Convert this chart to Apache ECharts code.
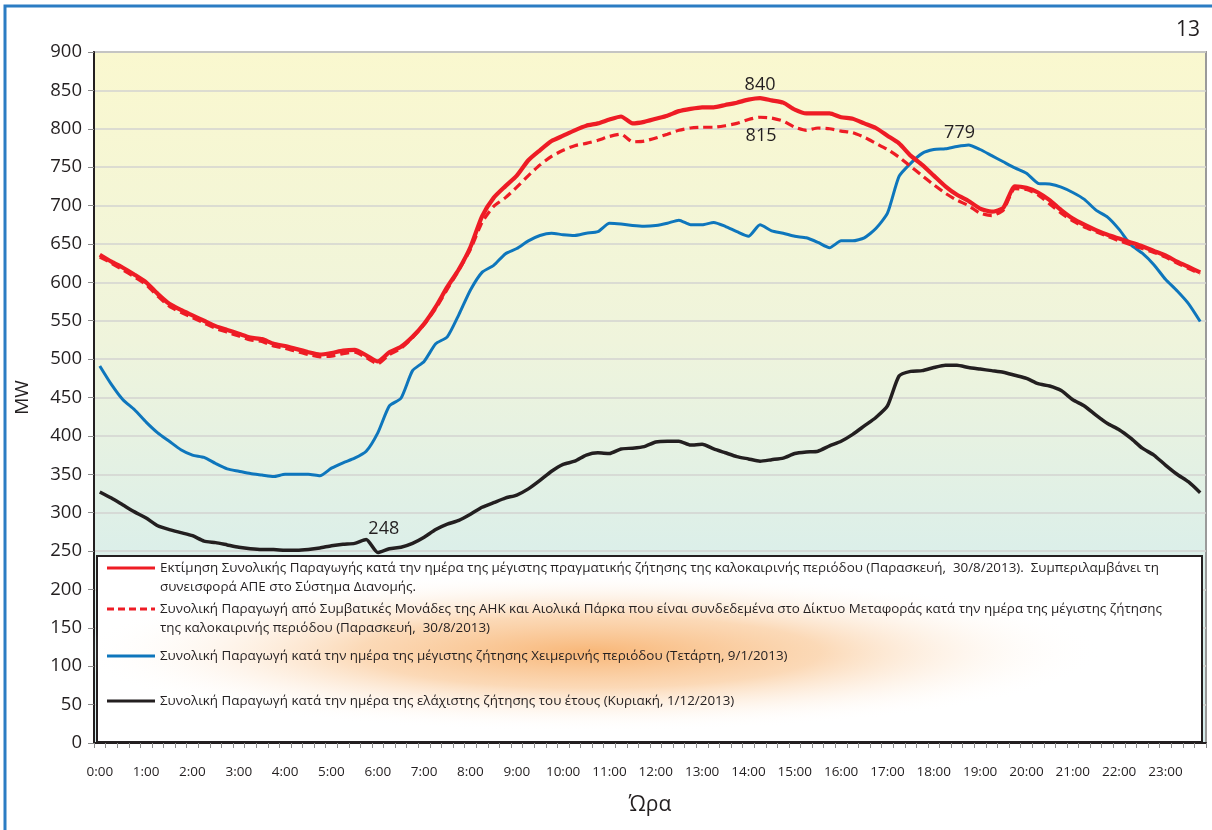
<!DOCTYPE html>
<html>
<head>
<meta charset="utf-8">
<title>Συνολική Παραγωγή</title>
<script src="https://cdn.jsdelivr.net/npm/echarts@6/dist/echarts.min.js"></script>
<style>
  html, body { margin: 0; padding: 0; background: #fff; }
  #main { width: 1212px; height: 830px; }
</style>
</head>
<body>
<div id="main"></div>
<script>
// ώρα ανά τέταρτο (0:00 ... 23:45)
var times = []
for (var h = 0; h < 24; h++) {
  for (var m = 0; m < 60; m += 15) times.push(h + ':' + (m < 10 ? '0' + m : m))
}

// MW, μία γραμμή ανά ώρα (4 τέταρτα)
var summerEstimate = [
  636, 627, 619, 610,  600, 585, 572, 564,  557, 550, 543, 538,  533, 528, 526, 520,
  517, 513, 509, 506,  508, 511, 512, 505,  497, 509, 516, 529,  546, 568, 594, 617,
  646, 686, 710, 725,  739, 759, 772, 784,  791, 798, 804, 807,  812, 816, 807, 809,
  813, 817, 823, 826,  828, 828, 831, 834,  838, 840, 837, 834,  825, 820, 820, 820,
  815, 813, 807, 801,  791, 781, 765, 753,  739, 725, 714, 706,  696, 692, 697, 725,
  723, 717, 707, 694,  683, 675, 668, 662,  657, 652, 647, 641,  635, 627, 620, 613
]
var summerTransmission = [
  633, 625, 616, 607,  597, 582, 569, 561,  554, 547, 540, 535,  530, 525, 523, 517,
  514, 510, 506, 503,  504, 507, 509, 502,  494, 506, 514, 528,  545, 566, 591, 616,
  643, 678, 699, 710,  724, 739, 753, 764,  772, 778, 781, 785,  790, 793, 783, 784,
  788, 793, 798, 801,  802, 802, 804, 807,  812, 815, 814, 810,  802, 798, 801, 800,
  797, 795, 789, 781,  773, 763, 751, 739,  727, 716, 707, 700,  690, 687, 694, 722,
  721, 714, 702, 690,  680, 672, 666, 660,  654, 649, 644, 639,  633, 625, 618, 611
]
var winterMax = [
  491, 467, 447, 434,  418, 404, 393, 382,  375, 372, 364, 357,  354, 351, 349, 347,
  350, 350, 350, 348,  358, 365, 371, 380,  404, 439, 449, 485,  497, 520, 529, 558,
  590, 613, 622, 637,  644, 654, 661, 664,  662, 661, 664, 666,  677, 676, 674, 673,
  674, 677, 681, 675,  675, 678, 673, 666,  660, 675, 667, 664,  660, 658, 652, 645,
  654, 654, 658, 670,  690, 738, 755, 768,  773, 774, 777, 779,  773, 765, 757, 749,
  742, 729, 728, 724,  717, 708, 694, 685,  669, 649, 638, 623,  604, 589, 572, 549
]
var yearMin = [
  327, 319, 310, 301,  293, 283, 278, 274,  270, 263, 261, 258,  255, 253, 252, 252,
  251, 251, 252, 254,  257, 259, 260, 265,  248, 253, 255, 260,  268, 278, 285, 290,
  298, 307, 313, 319,  323, 331, 342, 354,  363, 367, 375, 378,  377, 383, 384, 386,
  392, 393, 393, 388,  389, 383, 378, 373,  370, 367, 369, 371,  377, 379, 380, 387,
  393, 402, 413, 424,  439, 478, 484, 485,  489, 492, 492, 489,  487, 485, 483, 479,
  475, 468, 465, 459,  447, 439, 427, 416,  408, 397, 384, 375,  362, 350, 340, 326
]

var seriesNames = [
  'Εκτίμηση Συνολικής Παραγωγής κατά την ημέρα της μέγιστης πραγματικής ζήτησης της καλοκαιρινής περιόδου (Παρασκευή,  30/8/2013).  Συμπεριλαμβάνει τη\nσυνεισφορά ΑΠΕ στο Σύστημα Διανομής.',
  'Συνολική Παραγωγή από Συμβατικές Μονάδες της ΑΗΚ και Αιολικά Πάρκα που είναι συνδεδεμένα στο Δίκτυο Μεταφοράς κατά την ημέρα της μέγιστης ζήτησης\nτης καλοκαιρινής περιόδου (Παρασκευή,  30/8/2013)',
  'Συνολική Παραγωγή κατά την ημέρα της μέγιστης ζήτησης Χειμερινής περιόδου (Τετάρτη, 9/1/2013)',
  'Συνολική Παραγωγή κατά την ημέρα της ελάχιστης ζήτησης του έτους (Κυριακή, 1/12/2013)'
]
// σημείο με ετικέτα τιμής σε κάθε σειρά
var labelIndex = [57, 57, 75, 24]

var font = '"Open Sans", "DejaVu Sans", sans-serif'
var textColor = '#231f20'

var styles = [
  { color: '#ee1c25', width: 4.2, type: 'solid', label: { position: 'top', distance: 3, offset: [0, 0] } },
  { color: '#ee1c25', width: 3.2, type: [9, 5], label: { position: 'bottom', distance: 9, offset: [1, 0] } },
  { color: '#0e76bc', width: 3, type: 'solid', label: { position: 'top', distance: 2, offset: [-9, 0] } },
  { color: '#231f20', width: 3.5, type: 'solid', label: { position: 'top', distance: 14, offset: [6, 0] } }
]
var allData = [summerEstimate, summerTransmission, winterMax, yearMin]

var series = allData.map(function (arr, s) {
  var st = styles[s]
  return {
    name: seriesNames[s],
    type: 'line',
    smooth: 0.2,
    symbol: 'none',
    z: 10 - s,
    lineStyle: { color: st.color, width: st.width, type: st.type },
    itemStyle: { color: st.color },
    data: arr.map(function (v, i) {
      if (i !== labelIndex[s]) return v
      return {
        value: v,
        symbol: 'circle',
        symbolSize: 2,
        label: {
          show: true,
          position: st.label.position,
          distance: st.label.distance,
          offset: st.label.offset,
          formatter: '{c}',
          fontSize: 18,
          fontFamily: font,
          color: textColor
        }
      }
    })
  }
})

// υπόμνημα
var legendY = [568, 609, 656, 701]
var legendGraphics = [
  { type: 'rect', z: 1, shape: { x: 97, y: 556, width: 1105, height: 186 },
    style: { fill: '#fff', stroke: '#231f20', lineWidth: 2 } },
  { type: 'circle', z: 1, x: 590, y: 652, scaleX: 6.4, scaleY: 1,
    shape: { cx: 0, cy: 0, r: 80 },
    style: {
      fill: new echarts.graphic.RadialGradient(0.5, 0.5, 0.5, [
        { offset: 0, color: 'rgba(247,170,96,0.85)' },
        { offset: 0.45, color: 'rgba(249,192,135,0.6)' },
        { offset: 1, color: 'rgba(255,255,255,0)' }
      ])
    } }
]
seriesNames.forEach(function (name, i) {
  var st = styles[i]
  legendGraphics.push({
    type: 'line', z: 52,
    shape: { x1: 107, y1: legendY[i], x2: 155, y2: legendY[i] },
    style: { stroke: st.color, lineWidth: 3, lineDash: i === 1 ? [7, 4] : null }
  })
  legendGraphics.push({
    type: 'text', z: 52, x: 160, y: legendY[i] - 9,
    style: { text: name, fill: textColor, font: '13.4px ' + font, lineHeight: 19, verticalAlign: 'top' }
  })
})

var chart = echarts.init(document.getElementById('main'))
chart.setOption({
  animation: false,
  backgroundColor: '#fff',
  grid: {
    show: true,
    left: 94, top: 52, right: 6, bottom: 87,
    borderColor: '#9a9a9a', borderWidth: 2,
    backgroundColor: new echarts.graphic.LinearGradient(0, 0, 0, 1, [
      { offset: 0, color: '#faf8cf' },
      { offset: 0.42, color: '#eff4dc' },
      { offset: 0.72, color: '#dcefe9' },
      { offset: 1, color: '#d6eded' }
    ])
  },
  xAxis: {
    type: 'category',
    data: times,
    boundaryGap: true,
    name: 'Ώρα',
    nameLocation: 'middle',
    nameGap: 52,
    nameTextStyle: { fontSize: 21, fontFamily: font, color: textColor },
    axisLine: { lineStyle: { color: '#231f20', width: 2 } },
    axisTick: { show: true, interval: 0, length: 5, lineStyle: { color: '#8a8a8a' } },
    axisLabel: { interval: 3, margin: 22, fontSize: 13.5, fontFamily: font, color: textColor },
    splitLine: { show: false }
  },
  yAxis: {
    type: 'value',
    min: 0, max: 900, interval: 50,
    name: 'MW',
    nameLocation: 'middle',
    nameGap: 62,
    nameRotate: 90,
    nameTextStyle: { fontSize: 19, fontFamily: font, color: textColor },
    axisLine: { show: true, lineStyle: { color: '#231f20', width: 2 } },
    axisTick: { show: true, length: 6, lineStyle: { color: '#8a8a8a' } },
    axisLabel: { margin: 12, fontSize: 18.5, fontFamily: font, color: textColor },
    splitLine: { lineStyle: { color: '#d3d3d0', width: 1.5 } }
  },
  series: series,
  graphic: [
    { type: 'rect', z: 100, silent: true, shape: { x: 5, y: 6, width: 1230, height: 900 },
      style: { fill: 'none', stroke: '#2b7cc3', lineWidth: 3 } },
    { type: 'text', z: 100, x: 1200, y: 30,
      style: { text: '13', fill: textColor, font: '21px ' + font, align: 'right', verticalAlign: 'middle' } }
  ].concat(legendGraphics)
})
</script>
</body>
</html>
